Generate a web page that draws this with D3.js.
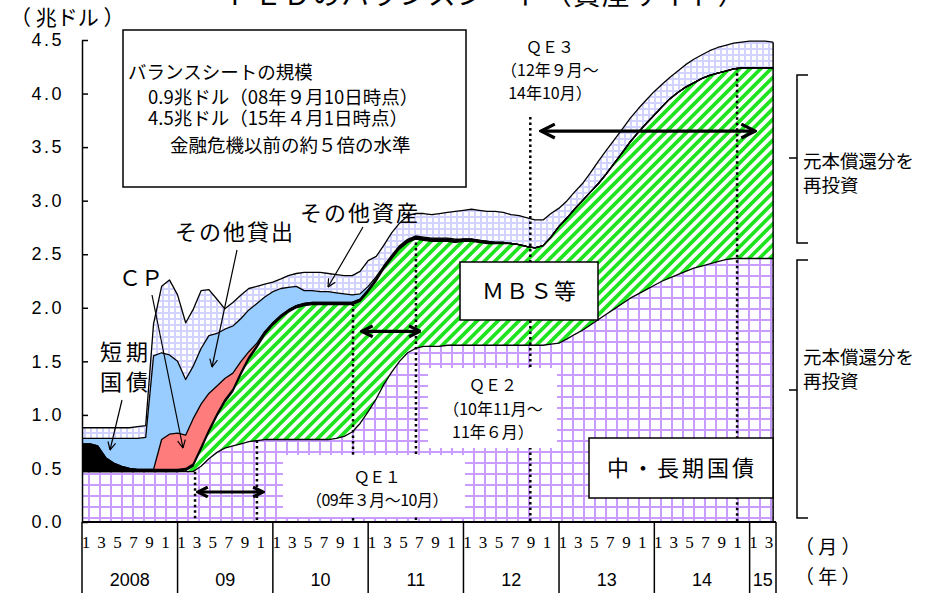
<!DOCTYPE html>
<html>
<head>
<meta charset="utf-8">
<script src="https://cdn.jsdelivr.net/npm/d3@7"></script>
<style>
  body { margin: 0; background: #fff; }
  svg text {
    font-family: "Noto Sans CJK JP", "Noto Sans", sans-serif;
    fill: #000;
  }
</style>
</head>
<body>
<svg id="chart" width="941" height="593"></svg>
<script>
/* FED balance sheet, asset side (trillion dollars), first day of each month, 2008/01 - 2015/04 */
const months = d3.timeMonth.range(new Date(2008, 0, 1), new Date(2015, 4, 1));

const treasuries = [
  .47, .47, .47, .47, .47, .47, .47, .47, .47, .47, .47, .47,
  .47, .47, .47, .52, .59, .65, .69, .71, .73, .75, .76, .77,
  .77, .77, .77, .77, .77, .77, .77, .77, .78, .80, .84, .92,
  1.03, 1.15, 1.28, 1.40, 1.50, 1.58, 1.62, 1.64, 1.64, 1.64, 1.65, 1.65,
  1.65, 1.65, 1.65, 1.65, 1.65, 1.65, 1.65, 1.65, 1.65, 1.65, 1.65, 1.66,
  1.67, 1.71, 1.75, 1.79, 1.84, 1.89, 1.94, 1.99, 2.04, 2.09, 2.13, 2.17,
  2.21, 2.25, 2.28, 2.31, 2.34, 2.37, 2.39, 2.41, 2.43, 2.45, 2.46, 2.46,
  2.46, 2.46, 2.46, 2.46
];
const mbs = [
  0, 0, 0, 0, 0, 0, 0, 0, 0, 0, 0, 0,
  0, .01, .05, .16, .25, .34, .43, .51, .65, .77, .87, .98,
  1.07, 1.14, 1.19, 1.23, 1.25, 1.26, 1.26, 1.26, 1.25, 1.23, 1.19, 1.14,
  1.12, 1.10, 1.08, 1.06, 1.05, 1.03, 1.02, .99, .98, .98, .97, .96,
  .97, .97, .96, .95, .95, .95, .95, .94, .92, .91, .93, 1.00,
  1.09, 1.13, 1.17, 1.21, 1.24, 1.27, 1.31, 1.36, 1.41, 1.46, 1.51, 1.55,
  1.59, 1.63, 1.67, 1.70, 1.72, 1.73, 1.75, 1.76, 1.76, 1.76, 1.77, 1.78,
  1.78, 1.78, 1.78, 1.78
];
const bills = [
  .26, .26, .24, .13, .08, .05, .03, .02, .02, .02, .02, .02,
  .02, .02, .02, .02, .02, .02, .02, .02, .02, .02, .02, .02,
  .02, .02, .02, .02, .02, .02, .02, .02, .02, .02, .02, .02,
  .02, .02, .02, .02, .02, .02, .02, .02, .02, .02, .02, .02,
  .02, .02, .02, .02, .01, .01, 0, 0, 0, 0, 0, 0,
  0, 0, 0, 0, 0, 0, 0, 0, 0, 0, 0, 0,
  0, 0, 0, 0, 0, 0, 0, 0, 0, 0, 0, 0,
  0, 0, 0, 0
];
const cp = [
  0, 0, 0, 0, 0, 0, 0, 0, 0, 0, .28, .33,
  .34, .31, .42, .40, .34, .26, .20, .15, .10, .05, .02, .01,
  0, 0, 0, 0, 0, 0, 0, 0, 0, 0, 0, 0,
  0, 0, 0, 0, 0, 0, 0, 0, 0, 0, 0, 0,
  0, 0, 0, 0, 0, 0, 0, 0, 0, 0, 0, 0,
  0, 0, 0, 0, 0, 0, 0, 0, 0, 0, 0, 0,
  0, 0, 0, 0, 0, 0, 0, 0, 0, 0, 0, 0,
  0, 0, 0, 0
];
const otherLoans = [
  .05, .05, .07, .18, .23, .26, .28, .29, .30, 1.06, .81, .74,
  .67, .52, .49, .52, .54, .49, .46, .44, .40, .39, .37, .32,
  .29, .25, .21, .18, .12, .11, .10, .10, .09, .08, .07, .05,
  .03, .02, .01, .01, .01, .01, .01, .01, .01, .01, .01, .01,
  0, 0, 0, 0, 0, 0, 0, 0, 0, 0, 0, 0,
  0, 0, 0, 0, 0, 0, 0, 0, 0, 0, 0, 0,
  0, 0, 0, 0, 0, 0, 0, 0, 0, 0, 0, 0,
  0, 0, 0, 0
];
const otherAssets = [
  .10, .10, .10, .10, .10, .10, .10, .11, .11, .30, .62, .70,
  .62, .53, .53, .54, .43, .32, .19, .22, .22, .20, .16, .12,
  .09, .09, .11, .12, .17, .17, .18, .17, .17, .17, .18, .21,
  .24, .19, .19, .21, .21, .22, .21, .22, .22, .23, .24, .26,
  .27, .28, .28, .28, .29, .28, .27, .27, .27, .26, .24, .22,
  .17, .16, .16, .16, .18, .21, .22, .22, .22, .22, .22, .22,
  .22, .21, .20, .20, .21, .22, .22, .23, .24, .24, .24, .24,
  .25, .25, .25, .24
];

const yTicks = [0, 0.5, 1.0, 1.5, 2.0, 2.5, 3.0, 3.5, 4.0, 4.5];
const monthTickLabels = { 0: "1", 2: "3", 4: "5", 6: "7", 8: "9", 10: "1" };
const yearLabels = ["2008", "09", "10", "11", "12", "13", "14", "15"];

// QE periods: dotted start/end lines (date, level where line starts) and arrows
const qeLines = [
  { date: new Date(2009, 2, 9), top: 0.47 },
  { date: new Date(2009, 10, 1), top: 0.76 },
  { date: new Date(2010, 10, 4), top: 2.04 },
  { date: new Date(2011, 6, 3), top: 2.66 },
  { date: new Date(2012, 8, 13), top: 3.78 },
  { date: new Date(2014, 10, 14), top: 4.24 }
];
const qeArrows = [
  { from: new Date(2009, 2, 20), to: new Date(2009, 10, 24), level: 0.28, head: 13 },
  { from: new Date(2010, 11, 8), to: new Date(2011, 6, 18), level: 1.78, head: 14 },
  { from: new Date(2012, 9, 24), to: new Date(2015, 0, 22), level: 3.65, head: 17 }
];

/* Scales */
const x = d3.scaleTime()
  .domain([new Date(2008, 0, 1), new Date(2015, 3, 12)])
  .range([82, 776]);
const y = d3.scaleLinear().domain([0, 4.5]).range([522, 40]);

const svg = d3.select("#chart");
const defs = svg.append("defs");

// Patterns
const purple = defs.append("pattern").attr("id", "grid-purple")
  .attr("patternUnits", "userSpaceOnUse").attr("width", 11).attr("height", 11);
purple.append("rect").attr("width", 11).attr("height", 11).attr("fill", "#c99cff");
purple.append("rect").attr("x", 2).attr("y", 2).attr("width", 9).attr("height", 9).attr("fill", "#fff");

const lavender = defs.append("pattern").attr("id", "grid-lavender")
  .attr("patternUnits", "userSpaceOnUse").attr("width", 6).attr("height", 6);
lavender.append("rect").attr("width", 6).attr("height", 6).attr("fill", "#d2d2ff");
lavender.append("rect").attr("x", 2).attr("y", 2).attr("width", 4).attr("height", 4).attr("fill", "#fff");

const stripe = defs.append("pattern").attr("id", "stripe-green")
  .attr("patternUnits", "userSpaceOnUse").attr("width", 7.4).attr("height", 10)
  .attr("patternTransform", "rotate(45)");
stripe.append("rect").attr("width", 7.4).attr("height", 10).attr("fill", "#fff");
stripe.append("rect").attr("width", 3.7).attr("height", 10).attr("fill", "#1ee31e");

// Arrow heads (open chevrons)
function addHead(id, size, width) {
  defs.append("marker").attr("id", id)
    .attr("viewBox", `0 0 ${size} ${size}`)
    .attr("markerUnits", "userSpaceOnUse")
    .attr("markerWidth", size).attr("markerHeight", size)
    .attr("refX", size - width / 2).attr("refY", size / 2)
    .attr("orient", "auto-start-reverse")
    .append("path")
    .attr("d", `M${width / 2},${width / 2} L${size - width / 2},${size / 2} L${width / 2},${size - width / 2}`)
    .attr("fill", "none").attr("stroke", "#000").attr("stroke-width", width);
}
addHead("head-s", 9, 1.2);
[13, 14, 17].forEach(s => addHead("head-" + s, s, 3.2));

/* Stacked areas */
const keys = ["treasuries", "mbs", "bills", "cp", "otherLoans", "otherAssets"];
const table = months.map((date, i) => ({
  date,
  treasuries: treasuries[i],
  mbs: mbs[i],
  bills: bills[i],
  cp: cp[i],
  otherLoans: otherLoans[i],
  otherAssets: otherAssets[i]
}));
const stacked = d3.stack().keys(keys)(table);
const fills = {
  treasuries: "url(#grid-purple)",
  mbs: "url(#stripe-green)",
  bills: "#000",
  cp: "#ff7c7c",
  otherLoans: "#99ccff",
  otherAssets: "url(#grid-lavender)"
};

const area = d3.area()
  .x(d => x(d.data.date))
  .y0(d => y(d[0]))
  .y1(d => y(d[1]));
const topLine = d3.line()
  .x(d => x(d.data.date))
  .y(d => y(d[1]));

svg.append("g").selectAll("path").data(stacked).join("path")
  .attr("d", area)
  .attr("fill", d => fills[d.key]);

svg.append("g").selectAll("path").data(stacked).join("path")
  .attr("d", topLine)
  .attr("fill", "none")
  .attr("stroke", "#000")
  .attr("stroke-width", 1.3)
  .attr("stroke-linejoin", "round");

// right edge of the data
const last = stacked[stacked.length - 1][months.length - 1];
svg.append("line")
  .attr("x1", x(last.data.date)).attr("x2", x(last.data.date))
  .attr("y1", y(0)).attr("y2", y(last[1]))
  .attr("stroke", "#000").attr("stroke-width", 1.5);

/* QE markers */
svg.append("g").selectAll("line").data(qeLines).join("line")
  .attr("x1", d => x(d.date)).attr("x2", d => x(d.date))
  .attr("y1", d => y(d.top)).attr("y2", y(0))
  .attr("stroke", "#000").attr("stroke-width", 2.5)
  .attr("stroke-dasharray", "2.5,3");

svg.append("g").selectAll("line").data(qeArrows).join("line")
  .attr("x1", d => x(d.from)).attr("x2", d => x(d.to))
  .attr("y1", d => y(d.level)).attr("y2", d => y(d.level))
  .attr("stroke", "#000").attr("stroke-width", 3.2)
  .attr("marker-start", d => `url(#head-${d.head})`)
  .attr("marker-end", d => `url(#head-${d.head})`);

/* Label boxes and texts */
function whiteBox(x0, y0, w, h, border) {
  svg.append("rect").attr("x", x0).attr("y", y0).attr("width", w).attr("height", h)
    .attr("fill", "#fff")
    .attr("stroke", border ? "#000" : "none").attr("stroke-width", 1.5);
}
// lines: array of [text, dx] ; one text element, one tspan per line
function label(lines, x0, y0, size, opts) {
  opts = opts || {};
  const t = svg.append("text").attr("x", x0).attr("y", y0)
    .attr("font-size", size)
    .attr("text-anchor", opts.anchor || "start")
    .attr("letter-spacing", opts.spacing || 0);
  if (typeof lines === "string") {
    t.text(lines);
    return;
  }
  lines.forEach((ln, i) => {
    const txt = Array.isArray(ln) ? ln[0] : ln;
    const dx = Array.isArray(ln) ? ln[1] : 0;
    t.append("tspan")
      .attr("x", x0 + dx)
      .attr("y", y0 + (opts.lineHeights ? opts.lineHeights[i] : i * (opts.lh || size * 1.3)))
      .text(txt);
  });
}

whiteBox(283, 455, 182, 62, false);
label(["ＱＥ１", "（09年３月～10月）"], 377, 483, 16, { anchor: "middle", lh: 23, spacing: -0.5 });

whiteBox(428, 368, 129, 80, false);
label(["ＱＥ２", "（10年11月～", "11年６月）"], 493, 391, 16, { anchor: "middle", lh: 23.5 });

label(["ＱＥ３", "（12年９月～", "14年10月）"], 550, 53, 16, { anchor: "middle", lh: 23 });

whiteBox(460, 262, 138, 58, true);
label("ＭＢＳ等", 530, 299, 22, { anchor: "middle", spacing: 2 });

whiteBox(589, 438, 184, 60, true);
label("中・長期国債", 682, 476, 22, { anchor: "middle", spacing: 3 });

whiteBox(123, 30, 343, 157, true);
label([
  ["バランスシートの規模", 0],
  ["0.9兆ドル（08年９月10日時点）", 20],
  ["4.5兆ドル（15年４月1日時点）", 20],
  ["金融危機以前の約５倍の水準", 42]
], 128, 79, 18.5, { lineHeights: [0, 25, 46, 73] });

/* Series labels with pointers */
label("その他資産", 300, 221, 22, { spacing: 2 });
label("その他貸出", 175, 240, 22, { spacing: 2 });
label("ＣＰ", 119, 286, 22);
label(["短期", "国債"], 100, 360, 22, { spacing: 4, lh: 30 });

const pointers = [
  [363, 227, 328, 287],
  [237, 250, 212, 367],
  [152, 295, 183, 448],
  [122, 400, 110, 450]
];
svg.append("g").selectAll("line").data(pointers).join("line")
  .attr("x1", d => d[0]).attr("y1", d => d[1])
  .attr("x2", d => d[2]).attr("y2", d => d[3])
  .attr("stroke", "#000").attr("stroke-width", 1.2)
  .attr("marker-end", "url(#head-s)");

/* Reinvestment brackets */
svg.append("path")
  .attr("d", "M808,75 H797 V243 H808 M797,158 H789 M808,260 H797 V518 H808 M797,390 H789")
  .attr("fill", "none").attr("stroke", "#000").attr("stroke-width", 1.5);
label(["元本償還分を", "再投資"], 803, 168, 18.5, { lh: 24 });
label(["元本償還分を", "再投資"], 803, 364, 18.5, { lh: 24 });

/* Title (cut off at the top edge) and units */
label("ＦＥＤのバランスシート（資産サイド）", 486, 5, 28, { anchor: "middle", spacing: 1 });
label("（ 兆ドル ）", 10, 25, 21);

/* Y axis */
const yAxis = d3.axisLeft(y)
  .tickValues(yTicks)
  .tickFormat(d3.format(".1f"))
  .tickSizeInner(-6)
  .tickSizeOuter(0)
  .tickPadding(20);
const yg = svg.append("g").attr("transform", "translate(82,0)").call(yAxis);
yg.selectAll("path, line").attr("stroke", "#000").attr("stroke-width", 1.5);
yg.selectAll("text")
  .style("font-family", '"Liberation Sans", Arial, sans-serif')
  .attr("font-size", 18)
  .attr("letter-spacing", 2.5)
  .attr("dx", 2);

/* X axis: months, years */
const xg = svg.append("g");
xg.append("line")
  .attr("x1", x.range()[0]).attr("x2", x.range()[1])
  .attr("y1", y(0)).attr("y2", y(0))
  .attr("stroke", "#000").attr("stroke-width", 2);

const yearStarts = d3.timeYear.range(new Date(2008, 0, 1), new Date(2016, 0, 1));
const dividers = yearStarts.map(d => x(d)).concat([x.range()[1]]);
xg.selectAll("line.div").data(dividers).join("line")
  .attr("class", "div")
  .attr("x1", d => d).attr("x2", d => d)
  .attr("y1", y(0)).attr("y2", 593)
  .attr("stroke", "#000").attr("stroke-width", 1.5);

xg.selectAll("text.month")
  .data(months.filter(d => d.getMonth() % 2 === 0))
  .join("text")
  .attr("class", "month")
  .attr("x", d => x(d3.timeDay.offset(d, 15)))
  .attr("y", 548)
  .attr("text-anchor", "middle")
  .attr("font-size", 17)
  .style("font-family", '"Liberation Serif", "DejaVu Serif", serif')
  .text(d => monthTickLabels[d.getMonth()]);

xg.selectAll("text.year").data(yearLabels).join("text")
  .attr("class", "year")
  .attr("x", (d, i) => (dividers[i] + dividers[i + 1]) / 2)
  .attr("y", 586)
  .attr("text-anchor", "middle")
  .attr("font-size", 18)
  .style("font-family", '"Liberation Sans", Arial, sans-serif')
  .text(d => d);

label(["（ 月 ）", "（ 年 ）"], 795, 554, 19, { lh: 30 });
</script>
</body>
</html>
